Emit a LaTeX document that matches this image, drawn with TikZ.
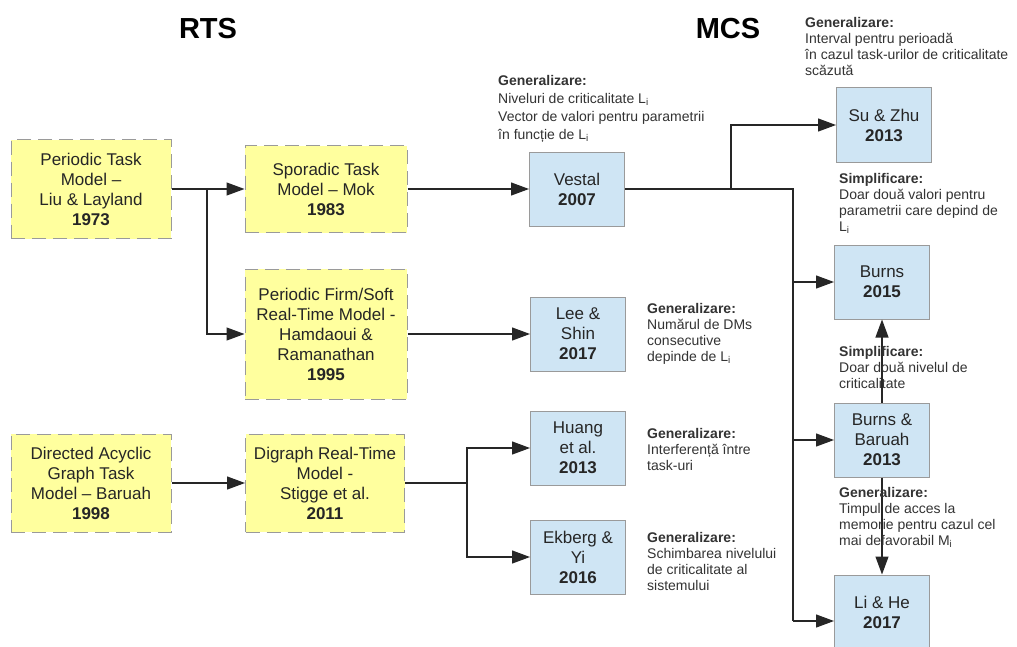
\documentclass[tikz,border=0pt]{standalone}
\usepackage{fontspec}
\setmainfont{Liberation Sans}
\usetikzlibrary{arrows.meta}
\definecolor{rtsfill}{HTML}{FFFF9E}
\definecolor{mcsfill}{HTML}{CFE5F4}
\definecolor{boxline}{HTML}{9A9A9A}
\begin{document}
\begin{tikzpicture}[x=1pt,y=-1pt,
  rtsbox/.style={draw=boxline,dashed,dash pattern=on 14pt off 7pt,line width=1pt,fill=rtsfill,align=center,inner sep=0pt,
    font=\fontsize{17}{20}\selectfont,text=black!85},
  mcsbox/.style={draw=boxline,line width=1pt,fill=mcsfill,align=center,inner sep=0pt,minimum width=95pt,minimum height=74pt,
    font=\fontsize{17}{20}\selectfont,text=black!85},
  note/.style={anchor=north west,align=left,inner sep=0pt,font=\fontsize{14}{16}\selectfont,text=black!80},
  title/.style={font=\fontsize{29}{32}\selectfont\bfseries},
  link/.style={line width=1.2pt,black!85},
  arr/.style={link,-{Triangle[length=18pt,width=13pt]}}]
\fill[white] (0,0) rectangle (1017,646);
\useasboundingbox (0,0) rectangle (1017,646);
\node[title] (rts) at (208,29){RTS};
\node[title] (mcs) at (728,29){MCS};
\node[rtsbox,minimum width=160pt,minimum height=99pt] (liu) at (91,189){Periodic Task\\Model --\\Liu \& Layland\\\textbf{1973}};
\node[rtsbox,minimum width=162pt,minimum height=87pt] (mok) at (326,189){Sporadic Task\\Model -- Mok\\\textbf{1983}};
\node[rtsbox,minimum width=162pt,minimum height=130pt] (firm) at (326,334){Periodic Firm/Soft\\Real-Time Model -\\Hamdaoui \&\\Ramanathan\\\textbf{1995}};
\node[rtsbox,minimum width=160pt,minimum height=98pt] (dag) at (91,483){Directed Acyclic\\Graph Task\\Model -- Baruah\\\textbf{1998}};
\node[rtsbox,minimum width=159pt,minimum height=98pt] (digraph) at (325,483){Digraph Real-Time\\Model -\\Stigge et al.\\\textbf{2011}};
\node[mcsbox] (vestal) at (577,189){Vestal\\\textbf{2007}};
\node[mcsbox] (lee) at (578,334){Lee \&\\Shin\\\textbf{2017}};
\node[mcsbox] (huang) at (578,448){Huang\\et al.\\\textbf{2013}};
\node[mcsbox] (ekberg) at (578,557){Ekberg \&\\Yi\\\textbf{2016}};
\node[mcsbox,minimum height=75pt] (suzhu) at (884,125){Su \& Zhu\\\textbf{2013}};
\node[mcsbox] (burns) at (882,282){Burns\\\textbf{2015}};
\node[mcsbox] (bb) at (882,440){Burns \&\\Baruah\\\textbf{2013}};
\node[mcsbox] (lihe) at (882,612){Li \& He\\\textbf{2017}};
\coordinate (j1) at (207,189);
\coordinate (j2) at (467,483);
\coordinate (j3) at (731,189);
\coordinate (j4) at (793,189);
\coordinate (j5) at (793,621);
\draw[link] (liu) -- (j1);
\draw[arr] (j1) -- (mok);
\draw[arr] (j1) |- (firm.west);
\draw[arr] (mok) -- (vestal);
\draw[arr] (firm) -- (lee);
\draw[arr] (dag) -- (digraph);
\draw[link] (digraph) -- (j2);
\draw[arr] (j2) |- (huang.west);
\draw[arr] (j2) |- (ekberg.west);
\draw[link,line width=1.6pt] (vestal) -- (j4) -- (j5);
\draw[arr] (j3) |- (suzhu.west);
\draw[arr] (j4) |- (burns.west);
\draw[arr] (j4) |- (bb.west);
\draw[arr] (j5) -- (j5 -| lihe.west);
\draw[arr] (bb) -- (burns);
\draw[arr] (bb) -- (lihe);
\node[note,font=\fontsize{14}{18}\selectfont] (gvestal) at (498,75){\textbf{Generalizare:}\\Niveluri de criticalitate L\textsubscript{i}\\Vector de valori pentru parametrii\\în funcție de L\textsubscript{i}};
\node[note] (gsuzhu) at (805,17){\textbf{Generalizare:}\\Interval pentru perioadă\\în cazul task-urilor de criticalitate\\scăzută};
\node[note] (sburns) at (839,173){\textbf{Simplificare:}\\Doar două valori pentru\\parametrii care depind de\\L\textsubscript{i}};
\node[note] (glee) at (647,303){\textbf{Generalizare:}\\Numărul de DMs\\consecutive\\depinde de L\textsubscript{i}};
\node[note] (ghuang) at (647,428){\textbf{Generalizare:}\\Interferență între\\task-uri};
\node[note] (gekberg) at (647,532){\textbf{Generalizare:}\\Schimbarea nivelului\\de criticalitate al\\sistemului};
\node[note] (sbb) at (839,346){\textbf{Simplificare:}\\Doar două nivelul de\\criticalitate};
\node[note] (gbb) at (839,487){\textbf{Generalizare:}\\Timpul de acces la\\memorie pentru cazul cel\\mai defavorabil M\textsubscript{i}};
\end{tikzpicture}
\end{document}
